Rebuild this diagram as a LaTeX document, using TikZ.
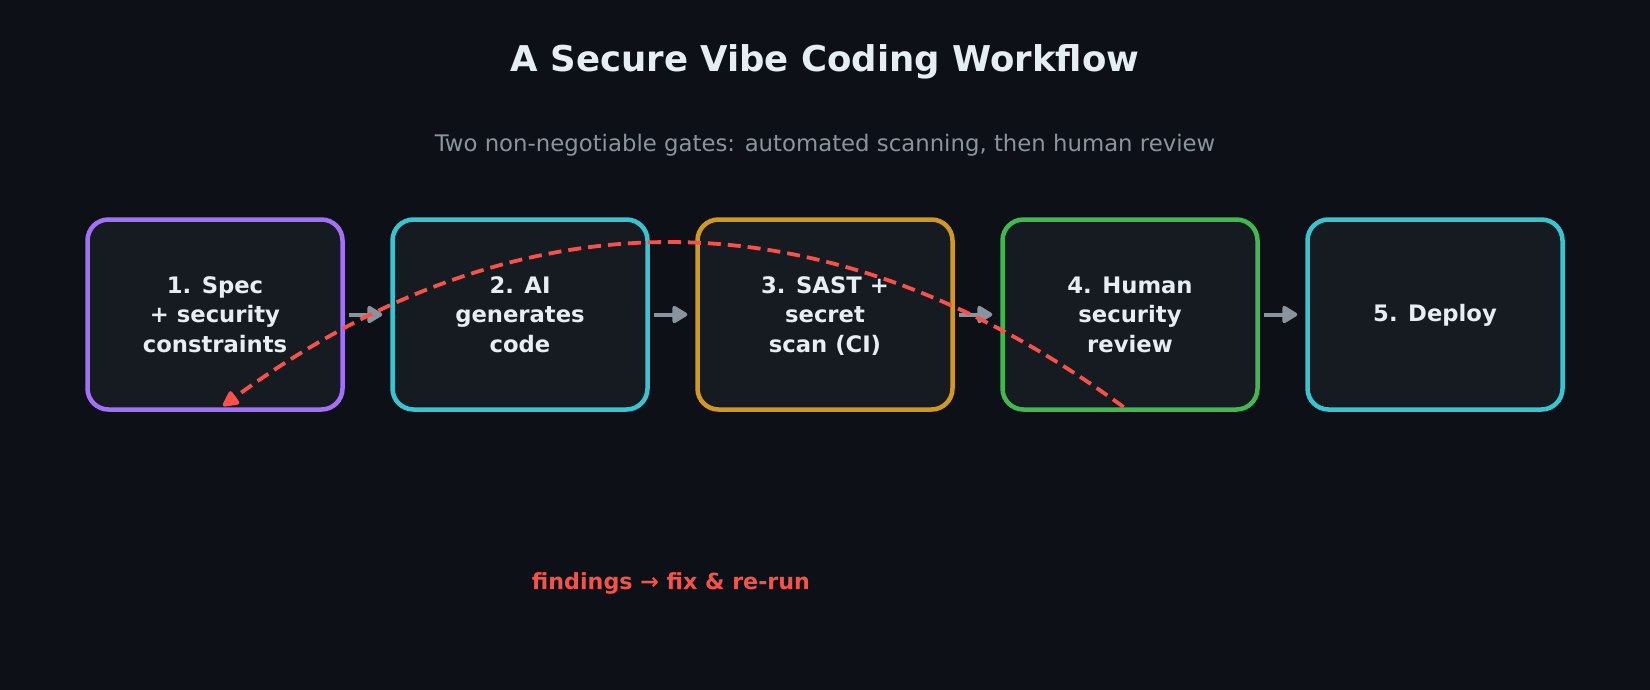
\documentclass[tikz,border=0pt]{standalone}
\usepackage{fontspec}
\setmainfont{DejaVu Sans}
\usetikzlibrary{arrows.meta}
\definecolor{bgc}{HTML}{0D1117}
\definecolor{boxfill}{HTML}{161B22}
\definecolor{txt}{HTML}{E6EDF3}
\definecolor{subc}{HTML}{8B949E}
\definecolor{arrc}{HTML}{8B949E}
\definecolor{purp}{HTML}{A371F7}
\definecolor{cyanc}{HTML}{39C5CF}
\definecolor{goldc}{HTML}{D29922}
\definecolor{greenc}{HTML}{3FB950}
\definecolor{redc}{HTML}{F85149}
\newcommand{\bxs}{\rule[-3pt]{0pt}{22pt}}
\tikzset{
  stepbox/.style={draw, line width=4.5pt, fill=boxfill, rounded corners=21pt,
    minimum width=255pt, minimum height=190pt, align=center, text=txt,
    font=\bfseries\fontsize{22.7}{29.5}\selectfont},
  flowarrow/.style={draw=arrc, line width=4pt, -{Triangle[round,length=17pt,width=19pt]},
    shorten <=4pt, shorten >=8pt},
  loopback/.style={draw=redc, line width=3.8pt, dash pattern=on 13pt off 7pt,
    -{Triangle[round,length=18pt,width=17pt]}, shorten <=8pt, shorten >=10pt},
}
\begin{document}
\begin{tikzpicture}[x=1pt,y=-1pt]
\useasboundingbox[fill=bgc] (0,0) rectangle (1650,690);
\node[anchor=base, text=txt, font=\bfseries\fontsize{35.5}{40}\selectfont] (title) at (825,71.5) {A Secure Vibe Coding Workflow};
\node[anchor=base, text=subc, font=\fontsize{22.8}{27}\selectfont] (sub) at (825,151.5) {Two non-negotiable gates: automated scanning, then human review};
\node[stepbox, draw=purp] (b1) at (215,314.5) {\bxs 1. Spec\\\bxs + security\\\bxs constraints};
\node[stepbox, draw=cyanc] (b2) at (520,314.5) {\bxs 2. AI\\\bxs generates\\\bxs code};
\node[stepbox, draw=goldc] (b3) at (825,314.5) {\bxs 3. SAST +\\\bxs secret\\\bxs scan (CI)};
\node[stepbox, draw=greenc] (b4) at (1130,314.5) {\bxs 4. Human\\\bxs security\\\bxs review};
\node[stepbox, draw=cyanc] (b5) at (1435,314.5) {\bxs 5. Deploy};
\draw[flowarrow] (b1.east) -- (b2.west);
\draw[flowarrow] (b2.east) -- (b3.west);
\draw[flowarrow] (b3.east) -- (b4.west);
\draw[flowarrow] (b4.east) -- (b5.west);
\draw[loopback] (b4.south) .. controls (825,188.7) and (520,188.7) .. (b1.south);
\node[anchor=base, text=redc, font=\bfseries\fontsize{22.2}{26}\selectfont] (lbl) at (671,589) {findings → fix \& re-run};
\end{tikzpicture}
\end{document}
